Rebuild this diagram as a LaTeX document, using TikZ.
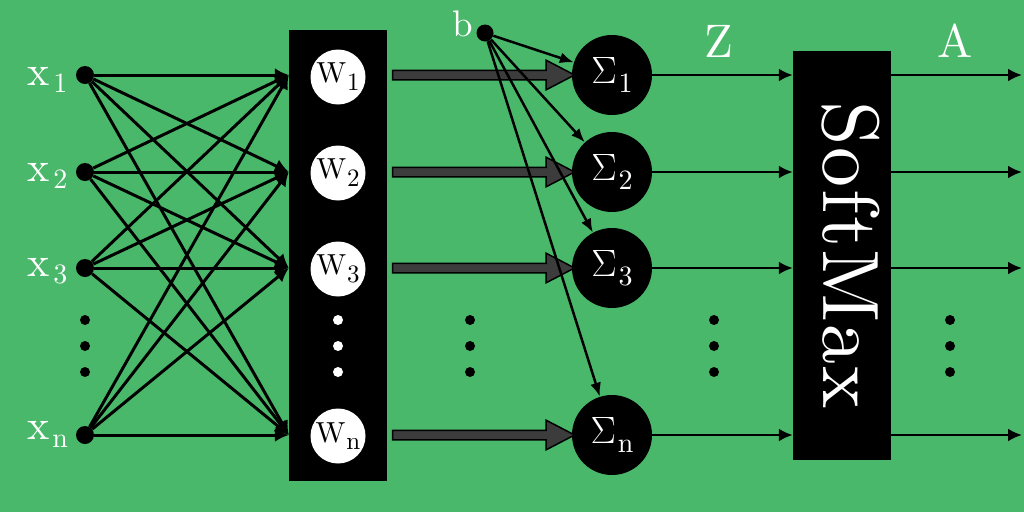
\documentclass[tikz,border=0pt]{standalone}
\usepackage{fontspec}
\setmainfont{lmroman10-regular.otf}
\usetikzlibrary{arrows.meta,shapes.arrows}
\definecolor{bg}{RGB}{74,184,106}
\definecolor{tarrow}{RGB}{60,60,60}
\newcommand\fs[1]{\fontsize{#1}{#1}\selectfont}
\newcommand\mysub[4]{\kern#4\raisebox{-#3}{\fs{#2}#1}}
\newcommand\bigsig{\resizebox{!}{26pt}{$\Sigma$}}
\begin{document}
\begin{tikzpicture}[x=1pt,y=-1pt,
  dot/.style={circle,fill=black,inner sep=0pt,minimum size=18pt},
  bdot/.style={circle,fill=black,inner sep=0pt,minimum size=17pt},
  edot/.style={circle,fill=black,inner sep=0pt,minimum size=10pt},
  wedot/.style={circle,fill=white,inner sep=0pt,minimum size=10pt},
  xlab/.style={text=white,font=\fs{42},inner sep=0pt,anchor=base west},
  wnode/.style={circle,fill=white,inner sep=0pt,minimum size=55pt,font=\fs{29}},
  snode/.style={circle,fill=black,text=white,inner sep=0pt,minimum size=80pt,font=\fs{38}},
  blackbox/.style={rectangle,fill=black,inner sep=0pt},
  toplab/.style={text=white,font=\fs{47},inner sep=0pt},
  xarrow/.style={line width=3pt,-{Latex[length=14pt,width=14pt]}},
  sarrow/.style={line width=2.5pt,-{Latex[length=14pt,width=13pt]}},
  barrow/.style={line width=2.5pt,-{Latex[length=14pt,width=11pt]}},
  tarr/.style={single arrow,draw=black,fill=tarrow,line width=1.5pt,
    minimum height=182pt,single arrow head extend=10pt,single arrow tip angle=55,
    inner xsep=0pt,inner ysep=4pt,text height=0pt,text depth=0pt,text width=0pt}
]
\useasboundingbox (0,0) rectangle (1024,512);
\fill[bg] (0,0) rectangle (1024,512);

% boxes
\node[blackbox,minimum width=98pt,minimum height=451pt] (wbox) at (338,255.5) {};
\node[blackbox,minimum width=98pt,minimum height=409pt] (sm) at (842,255.5) {};
\node[text=white,font=\fs{80},rotate=-90,inner sep=0pt] (smtext) at (851,255)
  {S\kern2pt o\kern2pt f\kern2pt t\kern2pt M\kern2pt a\kern2pt x};

% inputs
\node[dot] (x1) at (85,75) {};
\node[dot] (x2) at (85,172) {};
\node[dot] (x3) at (85,268) {};
\node[dot] (x4) at (85,435) {};
\node[xlab] (lx1) at (27,85) {x\mysub{1}{28}{7pt}{4pt}};
\node[xlab] (lx2) at (27,181) {x\mysub{2}{28}{7pt}{4pt}};
\node[xlab] (lx3) at (27,276) {x\mysub{3}{28}{7pt}{4pt}};
\node[xlab] (lx4) at (27,439) {x\mysub{n}{28}{8pt}{3pt}};

% W circles
\node[wnode] (w1) at (338,77) {W\mysub{1}{25}{8pt}{1pt}};
\node[wnode] (w2) at (338,173) {W\mysub{2}{25}{8pt}{1pt}};
\node[wnode] (w3) at (338,269) {W\mysub{3}{25}{8pt}{1pt}};
\node[wnode] (w4) at (338,436) {W\mysub{n}{25}{7pt}{1pt}};

% sums
\node[snode] (s1) at (612,75) {\bigsig\mysub{1}{28}{9pt}{2pt}};
\node[snode] (s2) at (612,172) {\bigsig\mysub{2}{28}{9pt}{2pt}};
\node[snode] (s3) at (612,268) {\bigsig\mysub{3}{28}{9pt}{2pt}};
\node[snode] (s4) at (612,435) {\bigsig\mysub{n}{28}{9pt}{2pt}};

% bias
\node[bdot] (b) at (485,33) {};
\node[text=white,font=\fs{37},inner sep=0pt,anchor=base west] (lb) at (452,36) {b};

% labels
\node[toplab] (lz) at (719,41) {Z};
\node[toplab] (la) at (955,41) {A};

% input connections
\foreach \i in {1,...,4}{
  \foreach \j in {1,...,4}{
    \draw[xarrow] (x\i) -- (wbox.west |- x\j);
  }
}

% thick arrows
\node[tarr] (ta1) at (479,75) {};
\node[tarr] (ta2) at (479,172) {};
\node[tarr] (ta3) at (479,268) {};
\node[tarr] (ta4) at (479,435) {};

% bias arrows
\foreach \i in {1,...,4}{
  \draw[barrow] (b) -- (s\i);
}

% to softmax and outputs
\coordinate (o1) at (1022,75);
\coordinate (o2) at (1022,172);
\coordinate (o3) at (1022,268);
\coordinate (o4) at (1022,435);
\foreach \i in {1,...,4}{
  \draw[sarrow] (s\i) -- (sm.west |- s\i);
  \draw[sarrow] (sm.east |- s\i) -- (o\i);
}

% vertical dots
\foreach \yy [count=\k] in {320,346,372}{
  \node[edot] (dx\k) at (85,\yy) {};
  \node[wedot] (dw\k) at (338,\yy) {};
  \node[edot] (dm\k) at (470,\yy) {};
  \node[edot] (dz\k) at (714,\yy) {};
  \node[edot] (da\k) at (950,\yy) {};
}
\end{tikzpicture}
\end{document}
